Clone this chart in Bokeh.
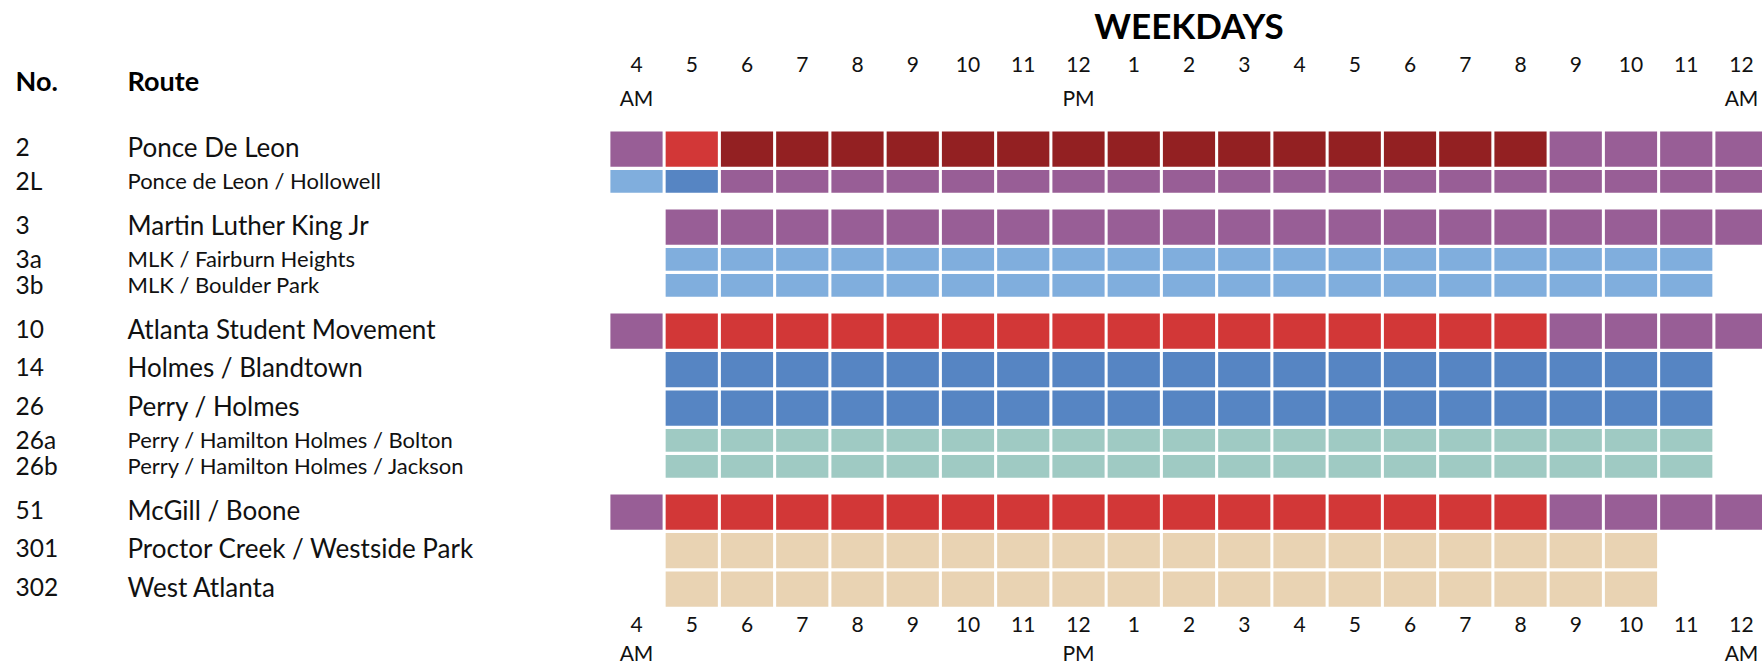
from bokeh.plotting import figure
from bokeh.models import Range1d, ColumnDataSource
from bokeh.core.properties import value
from bokeh.embed import file_html
from bokeh.resources import INLINE

# ---------------- data ----------------
title_text = "WEEKDAYS"
header_no = "No."
header_route = "Route"

hour_labels = ["4", "5", "6", "7", "8", "9", "10", "11", "12", "1", "2",
               "3", "4", "5", "6", "7", "8", "9", "10", "11", "12"]
meridiem_labels = ["AM", "", "", "", "", "", "", "", "PM", "", "",
                   "", "", "", "", "", "", "", "", "", "AM"]

route_numbers = ["2", "2L", "3", "3a", "3b", "10", "14", "26", "26a", "26b",
                 "51", "301", "302"]
route_names = ["Ponce De Leon", "Ponce de Leon / Hollowell",
               "Martin Luther King Jr", "MLK / Fairburn Heights",
               "MLK / Boulder Park", "Atlanta Student Movement",
               "Holmes / Blandtown", "Perry / Holmes",
               "Perry / Hamilton Holmes / Bolton",
               "Perry / Hamilton Holmes / Jackson",
               "McGill / Boone", "Proctor Creek / Westside Park",
               "West Atlanta"]
route_is_branch = [False, True, False, True, True, False, False, False,
                   True, True, False, False, False]
route_group = [0, 0, 1, 1, 1, 2, 2, 2, 2, 2, 3, 3, 3]

# service level per hour column (4 AM ... 12 AM); "-" = no service
service_2 = "PRDDDDDDDDDDDDDDDPPPP"
service_2L = "LBPPPPPPPPPPPPPPPPPPP"
service_3 = "-PPPPPPPPPPPPPPPPPPPP"
service_3a = "-LLLLLLLLLLLLLLLLLLL-"
service_3b = "-LLLLLLLLLLLLLLLLLLL-"
service_10 = "PRRRRRRRRRRRRRRRRPPPP"
service_14 = "-BBBBBBBBBBBBBBBBBBB-"
service_26 = "-BBBBBBBBBBBBBBBBBBB-"
service_26a = "-TTTTTTTTTTTTTTTTTTT-"
service_26b = "-TTTTTTTTTTTTTTTTTTT-"
service_51 = "PRRRRRRRRRRRRRRRRPPPP"
service_301 = "-SSSSSSSSSSSSSSSSSS--"
service_302 = "-SSSSSSSSSSSSSSSSSS--"
services = [service_2, service_2L, service_3, service_3a, service_3b,
            service_10, service_14, service_26, service_26a, service_26b,
            service_51, service_301, service_302]

level_colors = {
    "D": "#932022",  # darkest red
    "R": "#D23737",  # red
    "P": "#985E96",  # purple
    "L": "#80AEDD",  # light blue
    "B": "#5685C3",  # blue
    "T": "#9FCAC3",  # teal
    "S": "#E9D3B3",  # sand
}

# ---------------- layout (pixels) ----------------
W, H = 1762, 665
PITCH = 55.25
COL0_CENTER = 636.0
CELL_W = 52.2 / PITCH
TOP = 131.0
TALL, SHORT, GROUP_GAP, ROW_GAP = 38.5, 26.0, 13.5, 3.2
FONT = "Lato"
INK = "#111111"

x0 = -COL0_CENTER / PITCH
x1 = x0 + W / PITCH

p = figure(width=W, height=H, output_backend="svg", toolbar_location=None,
           x_range=Range1d(x0, x1), y_range=Range1d(H, 0),
           min_border=0, outline_line_color=None, background_fill_color="white")
p.axis.visible = False
p.grid.visible = False

row_top, row_bottom, row_mid = [], [], []
y = TOP
prev = None
for i, br in enumerate(route_is_branch):
    if prev is not None and route_group[i] != prev:
        y += GROUP_GAP
    pitch = SHORT if br else TALL
    row_top.append(y)
    row_bottom.append(y + pitch - ROW_GAP)
    row_mid.append(y + (pitch - ROW_GAP) / 2)
    y += pitch
    prev = route_group[i]

left, right, top, bottom, color = [], [], [], [], []
for r, svc in enumerate(services):
    for c, code in enumerate(svc):
        if code in level_colors:
            left.append(c - CELL_W / 2)
            right.append(c + CELL_W / 2)
            top.append(row_top[r])
            bottom.append(row_bottom[r])
            color.append(level_colors[code])

p.quad(left="left", right="right", top="top", bottom="bottom",
       fill_color="color", line_color=None,
       source=ColumnDataSource(dict(left=left, right=right, top=top,
                                    bottom=bottom, color=color)))

# hour labels (top and bottom)
cols = list(range(len(hour_labels)))
n = len(cols)
for yy, labels, base in [(64.3, hour_labels, "middle"),
                         (96.5, meridiem_labels, "middle"),
                         (623.5, hour_labels, "middle"),
                         (H - 0.5, meridiem_labels, "bottom")]:
    p.text(x=cols, y=[yy] * n, text=labels,
           text_font=value(FONT), text_font_size="21px", text_color=INK,
           text_align="center", text_baseline=base)

# title
p.text(x=[(n - 1) / 2], y=[24.0], text=[title_text],
       text_font=value(FONT), text_font_size="35px", text_font_style="bold",
       text_color="#000000", text_align="center", text_baseline="middle")

# headers
p.text(x=[x0], y=[79.5], text=[header_no], x_offset=15,
       text_font=value(FONT), text_font_size="27px", text_font_style="bold",
       text_color="#000000", text_align="left", text_baseline="middle")
p.text(x=[x0], y=[79.5], text=[header_route], x_offset=127,
       text_font=value(FONT), text_font_size="27px", text_font_style="bold",
       text_color="#000000", text_align="left", text_baseline="middle")

# route labels
tall_idx = [i for i, b in enumerate(route_is_branch) if not b]
short_idx = [i for i, b in enumerate(route_is_branch) if b]
for idx, size, lift in [(tall_idx, "26px", 2.5), (short_idx, "22px", 1.0)]:
    ys = [row_mid[i] - lift for i in idx]
    p.text(x=[x0] * len(idx), y=ys, text=[route_numbers[i] for i in idx],
           x_offset=15, text_font=value(FONT), text_font_size="24.5px",
           text_color=INK, text_align="left", text_baseline="middle")
    p.text(x=[x0] * len(idx), y=ys, text=[route_names[i] for i in idx],
           x_offset=127, text_font=value(FONT), text_font_size=size,
           text_color=INK, text_align="left", text_baseline="middle")

open("out.html", "w").write(file_html(p, INLINE))
